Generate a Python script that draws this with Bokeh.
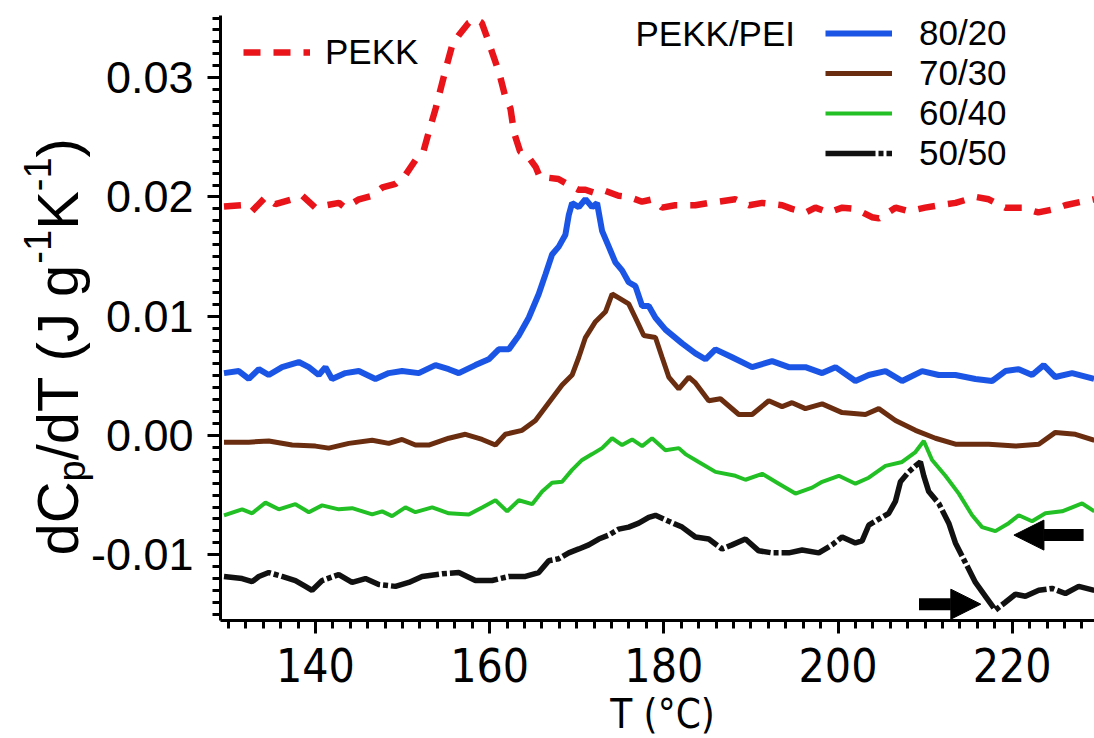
import math
from bokeh.plotting import figure
from bokeh.models import (Range1d, FixedTicker, PrintfTickFormatter, Legend, LegendItem,
                          Label, Arrow, NormalHead)
from bokeh.embed import file_html
from bokeh.resources import INLINE

# ---------------- data ----------------
pekk_T = [129.5, 131.6, 132.7, 134.3, 135.4, 137.3, 138.5, 140.0, 141.2, 142.7, 143.4, 145.0, 146.5,
          147.7, 149.2, 150.3, 151.5, 152.4, 153.0, 153.8, 154.5, 155.1, 155.7, 156.5, 157.6, 158.4,
          159.1, 159.7, 160.3, 161.1, 161.8, 162.4, 162.8, 163.5, 164.3, 165.3, 165.8, 166.8, 167.9,
          169.1, 170.2, 171.0, 172.2, 173.3, 174.8, 176.0, 177.5, 178.7,
          179.8, 181.3, 183.6, 185.2, 188.2, 189.8, 191.3, 193.6, 194.7, 196.3, 197.4, 198.9, 200.5,
          202.0, 203.9, 204.7, 206.6, 208.1, 210.0, 211.6, 213.5, 215.8, 217.3, 219.2, 221.1, 223.0,
          225.0, 226.1, 228.0, 229.4]
pekk_V = [0.0192, 0.0193, 0.0188, 0.0200, 0.0194, 0.0198, 0.0201, 0.0191, 0.0193, 0.0195, 0.0191,
          0.0198, 0.0201, 0.0208, 0.0211, 0.0218, 0.0231, 0.0238, 0.0254, 0.0274, 0.0294, 0.0311,
          0.0327, 0.0336, 0.0346, 0.0349, 0.0346, 0.0334, 0.0321, 0.0304, 0.0284, 0.0274, 0.0254,
          0.0238, 0.0235, 0.0225, 0.0216, 0.0216, 0.0215, 0.0210, 0.0206, 0.0206, 0.0203, 0.0205,
          0.0201, 0.0200, 0.0196, 0.0198,
          0.0191, 0.0193, 0.0193, 0.0195, 0.0198, 0.0193, 0.0195, 0.0193, 0.0190, 0.0187, 0.0191,
          0.0187, 0.0191, 0.0190, 0.0183, 0.0182, 0.0191, 0.0188, 0.0191, 0.0193, 0.0195, 0.0200,
          0.0198, 0.0191, 0.0191, 0.0187, 0.0190, 0.0193, 0.0196, 0.0198]

b8020_T = [129.5, 131.2, 132.35, 133.5, 134.64, 136.17, 138.09, 139.24, 140.38, 141.15, 141.91,
           143.44, 144.98, 146.89, 148.42, 149.95, 151.86, 153.78, 155.31, 156.46, 158.37, 159.9,
           161.05, 162.2, 163.35, 164.49, 165.64, 166.41, 167.17, 167.94, 168.7, 169.09, 169.47,
           170.24, 171.0, 171.77, 172.34, 172.91, 173.68, 174.44, 175.21, 175.97, 176.74, 177.51,
           178.27, 179.04,
           180.19, 182.1, 183.63, 184.78, 185.93, 187.84, 190.14, 192.43, 194.35, 196.26, 198.18,
           199.71, 202.0, 203.53, 205.45, 207.36, 209.66, 211.57, 213.48, 215.78, 217.69, 219.22,
           220.75, 222.28, 223.62, 224.96, 226.88, 229.4]
b8020_V = [0.00523, 0.0054, 0.00474, 0.00556, 0.00507, 0.00573, 0.00616, 0.00573, 0.00507, 0.00573,
           0.00474, 0.00523, 0.0054, 0.00474, 0.00523, 0.0054, 0.00523, 0.0059, 0.00556, 0.00523,
           0.0059, 0.00639, 0.00722, 0.00722, 0.00838, 0.00987, 0.01186, 0.01351, 0.01517, 0.01583,
           0.01683, 0.01848, 0.01948, 0.01914, 0.01981, 0.01914, 0.01948, 0.01716, 0.01583, 0.01451,
           0.01384, 0.01285, 0.01252, 0.01086, 0.01086, 0.00987,
           0.00888, 0.00772, 0.00689, 0.00639, 0.00722, 0.00656, 0.00573, 0.00623, 0.00573, 0.00573,
           0.00523, 0.00573, 0.00457, 0.00507, 0.0054, 0.00457, 0.0054, 0.00507, 0.00507, 0.00474,
           0.00457, 0.0054, 0.00556, 0.00507, 0.0059, 0.0049, 0.00523, 0.00474]

b7030_T = [129.5, 132.35, 134.64, 137.32, 140.0, 141.53, 143.83, 146.51, 148.42, 149.95,
           151.48, 153.01, 155.31, 157.22, 159.14, 160.67, 161.81, 163.73, 165.26, 166.79,
           168.32, 169.47, 170.24, 171.0, 172.15, 173.3, 174.06, 174.83, 175.97, 176.74,
           177.7, 179.04,
           179.8, 180.57, 181.72, 182.87, 183.63, 185.16, 186.5, 188.61, 190.14, 192.05,
           193.58, 194.73, 196.26, 198.18, 200.47, 203.15, 204.68, 206.6, 208.89, 211.19,
           213.48, 217.31, 220.37, 223.05, 224.96, 227.26, 229.44]
b7030_V = [-0.00056, -0.00056, -0.00046, -0.0008, -0.00089, -0.00106, -0.00066, -0.0004, -0.00066,
           -0.00033, -0.0008, -0.0008, -0.00023, 0.0001, -0.00033, -0.0008, 0.0001, 0.00043, 0.00126,
           0.00275, 0.00424, 0.00507, 0.00656, 0.00821, 0.00954, 0.01037, 0.01186, 0.01153, 0.01103,
           0.00987, 0.00838, 0.00821,
           0.00656, 0.0049, 0.00391, 0.0049, 0.00441, 0.00291, 0.00308, 0.00176, 0.00176, 0.00291,
           0.00242, 0.00275, 0.00225, 0.00265, 0.00192, 0.00176, 0.00225, 0.00126, 0.00043, -0.00023,
           -0.00073, -0.00073, -0.00089, -0.00073, 0.00026, 0.0001, -0.0004]

b6040_T = [129.5, 131.58, 132.73, 134.26, 135.79, 137.7, 139.24, 140.77, 142.68, 144.21,
           146.51, 147.66, 148.8, 150.33, 151.48, 153.4, 155.31, 157.61, 159.14, 160.67,
           162.01, 163.35, 164.88, 166.03, 167.17, 168.32, 169.47, 170.62, 171.77, 172.91,
           174.06, 175.21, 176.36, 177.51, 178.65,
           180.19, 181.72, 182.48, 184.0, 185.93, 188.22, 189.37, 191.29, 193.2, 195.11,
           197.03, 198.18, 200.09, 202.0, 203.53, 205.45, 207.36, 208.89, 209.85, 210.8,
           212.33, 213.87, 215.4, 216.54, 218.07, 219.6, 220.75, 222.28, 223.81, 225.73,
           228.03, 229.44]
b6040_V = [-0.00669, -0.00619, -0.00652, -0.00563, -0.00619, -0.00576, -0.00643, -0.00586, -0.00619,
           -0.00609, -0.00662, -0.00636, -0.00676, -0.00603, -0.00643, -0.00603, -0.00652, -0.00662,
           -0.00603, -0.00543, -0.00636, -0.00543, -0.00576, -0.0047, -0.00397, -0.00388, -0.00288,
           -0.00205, -0.00156, -0.00106, -0.00023, -0.0008, -0.00033, -0.00089, -0.00023,
           -0.00123, -0.00106, -0.00156, -0.00222, -0.00305, -0.00338, -0.00371, -0.00321, -0.00404,
           -0.00487, -0.00437, -0.00388, -0.00338, -0.00404, -0.00354, -0.00255, -0.00222, -0.00139,
           -0.00046, -0.00205, -0.00338, -0.00487, -0.00669, -0.00768, -0.00802, -0.00735, -0.00669,
           -0.00719, -0.00652, -0.00636, -0.0057, -0.00636]

b5050_T = [129.5, 131.58, 132.73, 133.5, 134.64, 136.17, 137.7, 138.85, 139.62, 140.77,
           142.68, 144.21, 145.74, 147.27, 149.19, 150.72, 152.25, 154.54, 156.46, 158.37,
           160.28, 162.2, 164.11, 165.64, 166.79, 167.94, 169.09, 170.24, 171.38, 172.53,
           173.68, 174.83, 175.97, 177.12, 178.27, 179.04,
           180.57, 182.1, 183.63, 185.16, 186.69, 187.84, 189.37, 190.9, 192.43, 194.35,
           195.88, 197.79, 199.32, 200.47, 202.0, 202.77, 203.53, 204.68, 205.83, 206.59,
           207.17, 208.12, 208.89, 209.46, 209.85, 210.42, 211.57, 212.72, 213.48, 214.63,
           215.78, 216.93, 218.07, 219.22, 220.37, 221.52, 223.05, 224.58, 226.11, 227.64,
           229.44]
b5050_V = [-0.01182, -0.01199, -0.01225, -0.01182, -0.01149, -0.01182, -0.01216, -0.01265, -0.01298,
           -0.01216, -0.01166, -0.01232, -0.01199, -0.01249, -0.01265, -0.01232, -0.01182, -0.01159,
           -0.01149, -0.01216, -0.01216, -0.01182, -0.01182, -0.01149, -0.0105, -0.01033, -0.00984,
           -0.00951, -0.00917, -0.00868, -0.00835, -0.00785, -0.00768, -0.00735, -0.00686, -0.00669,
           -0.00719, -0.00768, -0.00851, -0.00868, -0.00951, -0.00917, -0.00868, -0.00967, -0.00984,
           -0.00984, -0.0096, -0.00984, -0.00917, -0.00851, -0.00901, -0.00884, -0.00752, -0.00702,
           -0.00652, -0.00553, -0.00388, -0.00305, -0.00255, -0.00222, -0.00338, -0.0047, -0.0057,
           -0.00735, -0.00901, -0.01066, -0.01232, -0.01348, -0.01464, -0.01398, -0.01331, -0.01348,
           -0.01298, -0.01282, -0.01325, -0.01265, -0.01298]

x_major = [140, 160, 180, 200, 220]
y_major = [-0.01, 0.00, 0.01, 0.02, 0.03]
blend_labels = ["80/20", "70/30", "60/40", "50/50"]

# axis extents (data units)
x_lo, x_hi = 129.1, 229.45
y_lo, y_hi = -0.01551, 0.03521

# arrow annotations (data coordinates)
arrow_left = dict(x0=228.2, x1=220.2, y=-0.00835)
arrow_right = dict(x0=209.3, x1=216.4, y=-0.01414)

# ---------------- figure ----------------
# The frame fills the whole canvas; the axes are pinned inside it (fixed_location)
W_PX, H_PX = 1094, 738
AX_LEFT_PX, AX_BOTTOM_PX = 220, 620
px_per_x = (W_PX - AX_LEFT_PX) / (x_hi - x_lo)
px_per_y = (AX_BOTTOM_PX - 15) / (y_hi - y_lo)
xr = Range1d(x_lo - AX_LEFT_PX / px_per_x, x_hi)
yr = Range1d(y_lo - (H_PX - AX_BOTTOM_PX) / px_per_y, y_hi + 15 / px_per_y)

FONT = "Liberation Sans"
NARROW = "Liberation Sans Narrow, DejaVu Sans Condensed"

p = figure(width=W_PX, height=H_PX, output_backend="svg", toolbar_location=None,
           x_range=xr, y_range=yr, min_border=0)
p.outline_line_color = None
p.grid.visible = False

p.xaxis.fixed_location = y_lo
p.yaxis.fixed_location = x_lo
p.xaxis.bounds = (x_lo, x_hi)
p.yaxis.bounds = (y_lo, y_hi)

for ax in (p.xaxis[0], p.yaxis[0]):
    ax.axis_line_width = 3
    ax.major_tick_line_width = 3
    ax.minor_tick_line_width = 3
    ax.major_tick_out = 13
    ax.minor_tick_out = 8
    ax.major_tick_in = 0
    ax.minor_tick_in = 0
    ax.major_label_text_color = "black"

p.xaxis.ticker = FixedTicker(ticks=x_major, minor_ticks=[130 + 2 * i for i in range(51)])
p.xaxis.major_label_text_font = NARROW
p.xaxis.major_label_text_font_size = "46px"
p.xaxis.major_label_standoff = 14

p.yaxis.ticker = FixedTicker(ticks=y_major, minor_ticks=[round(-0.015 + 0.001 * i, 4) for i in range(51)])
p.yaxis.formatter = PrintfTickFormatter(format="%.2f")
p.yaxis.major_label_text_font = FONT
p.yaxis.major_label_text_font_size = "45px"
p.yaxis.major_label_standoff = 14

r_pekk = p.line(pekk_T, pekk_V, line_color="#e8141a", line_width=6.5, line_dash="17 13")
r_8020 = p.line(b8020_T, b8020_V, line_color="#1a55e6", line_width=6)
r_7030 = p.line(b7030_T, b7030_V, line_color="#6a2d10", line_width=5)
r_6040 = p.line(b6040_T, b6040_V, line_color="#22c024", line_width=4)
r_5050 = p.line(b5050_T, b5050_V, line_color="#111111", line_width=5.5, line_dash="50 3 5 3")

for a in (arrow_left, arrow_right):
    p.add_layout(Arrow(end=NormalHead(size=30, fill_color="black", line_color="black", line_width=1),
                       x_start=a["x0"], y_start=a["y"], x_end=a["x1"], y_end=a["y"],
                       line_width=12, line_color="black"))

# legends (screen positions measured from the canvas bottom-left)
leg_common = dict(glyph_width=67, glyph_height=40, label_height=40, spacing=0, padding=0, margin=0,
                  border_line_color=None, background_fill_alpha=0,
                  label_text_font=FONT, label_text_font_size="35px", label_text_baseline="middle",
                  label_text_color="black")
leg1 = Legend(items=[LegendItem(label="PEKK", renderers=[r_pekk])], location=(243, H_PX - 72),
              label_standoff=15, **leg_common)
leg2 = Legend(items=[LegendItem(label=lab, renderers=[r]) for lab, r in
                     zip(blend_labels, [r_8020, r_7030, r_6040, r_5050])],
              location=(825, H_PX - 173), label_standoff=27, **leg_common)
p.add_layout(leg1)
p.add_layout(leg2)

p.add_layout(Label(x=635, y=H_PX - 33, x_units="screen", y_units="screen", text="PEKK/PEI",
                   text_font=FONT, text_font_size="35px", text_align="left", text_baseline="middle",
                   text_color="black"))

# x axis title
p.add_layout(Label(x=662, y=H_PX - 713, x_units="screen", y_units="screen", text="T (°C)",
                   text_font=NARROW, text_font_size="40px", text_align="center", text_baseline="middle",
                   text_color="black"))

# y axis title composed from pieces (main, subscript, superscript)
S, S2 = 58, 38
CW = {"d": .556, "C": .722, "p": .556, "/": .278, "T": .611, " ": .278, "(": .333, "J": .5,
      "g": .556, "-": .333, "1": .556, "K": .667, ")": .333}
pieces = [("dC", 0), ("p", -1), ("/dT (J g", 0), ("-1", 1), ("K", 0), ("-1", 1), (" )", 0)]
y_cur = H_PX - 555
xc = 57
for txt, kind in pieces:
    size = S if kind == 0 else S2
    dx = 0 if kind == 0 else (14 if kind < 0 else -20)
    p.add_layout(Label(x=xc + dx, y=y_cur, x_units="screen", y_units="screen", text=txt,
                       angle=math.pi / 2, text_font=FONT, text_font_size=f"{size}px",
                       text_align="left", text_baseline="middle", text_color="black"))
    y_cur += sum(CW[c] for c in txt) * size

open("out.html", "w").write(file_html(p, INLINE))
